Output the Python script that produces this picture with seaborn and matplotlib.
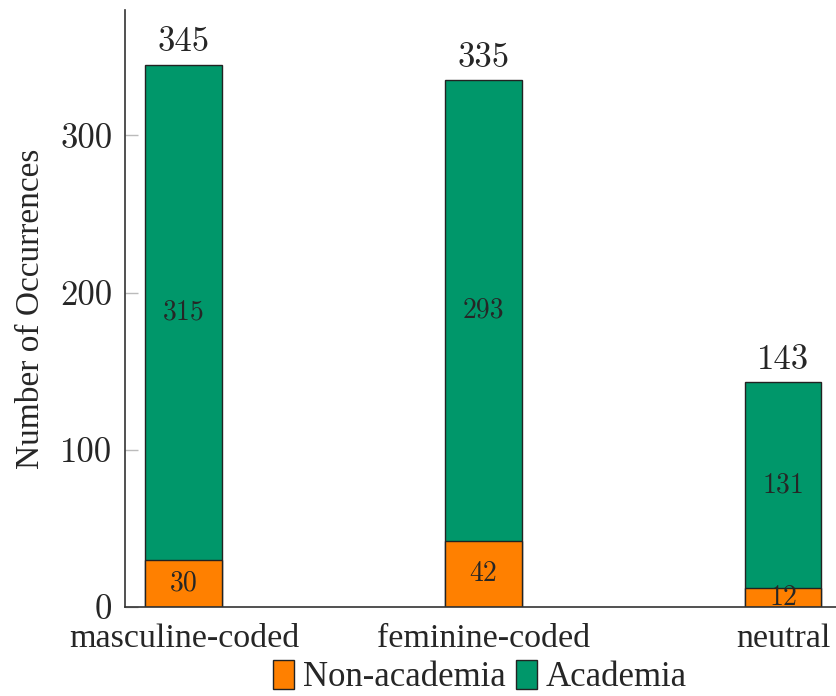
import numpy as np
import pandas as pd
import matplotlib
matplotlib.use('Agg')
import matplotlib.pyplot as plt
import matplotlib.patches as mpatches
import seaborn as sns

# Data
categories = ['masculine-coded', 'feminine-coded', 'neutral']
non_academia = [30, 42, 12]
academia = [315, 293, 131]
totals = [n + a for n, a in zip(non_academia, academia)]

orange = '#FF8000'
green = '#00976A'

sns.set_theme(style='white')
plt.rcParams['font.family'] = ['Liberation Serif', 'DejaVu Serif']
plt.rcParams['axes.formatter.use_mathtext'] = True

df = pd.DataFrame({'category': categories, 'non_academia': non_academia,
                   'academia': academia, 'total': totals})

fig = plt.figure(figsize=(8.36, 6.96), dpi=100)
ax = fig.add_axes([0.1495, 0.128, 0.8505, 0.858])

bw = 0.257
# full stack in green, then non-academia on top of it from zero
sns.barplot(data=df, x='category', y='total', color=green, saturation=1,
            width=bw, edgecolor='#222222', linewidth=1.0, ax=ax)
sns.barplot(data=df, x='category', y='non_academia', color=orange, saturation=1,
            width=bw, edgecolor='#222222', linewidth=1.0, ax=ax)

num_font = 'cmr10'
for i in range(len(categories)):
    ax.text(i, non_academia[i] / 2, str(non_academia[i]), ha='center', va='center',
            fontsize=20, family=num_font)
    ax.text(i, non_academia[i] + academia[i] / 2, str(academia[i]), ha='center',
            va='center', fontsize=20, family=num_font)
    ax.text(i, totals[i] + 4, str(totals[i]), ha='center', va='bottom',
            fontsize=25, family=num_font)

ax.set_xlim(-0.197, 2.177)
ax.set_ylim(0, 380)
ax.set_yticks([0, 100, 200, 300])
ax.set_yticklabels(['0', '100', '200', '300'], family=num_font, fontsize=25)
ax.set_xticks(range(len(categories)))
ax.set_xticklabels(categories, fontsize=24.5)
ax.tick_params(axis='y', direction='in', length=9, width=1, color='#bbbbbb',
               left=True, pad=9)
ax.tick_params(axis='x', length=0, pad=12)
ax.set_xlabel('')
ax.set_ylabel('Number of Occurrences', fontsize=24, labelpad=10)

for s in ['top', 'right']:
    ax.spines[s].set_visible(False)
for s in ['left', 'bottom']:
    ax.spines[s].set_color('#333333')
    ax.spines[s].set_linewidth(1.2)

handles = [mpatches.Patch(facecolor=orange, edgecolor='#222222', label='Non-academia'),
           mpatches.Patch(facecolor=green, edgecolor='#222222', label='Academia')]
fig.legend(handles=handles, loc='center', bbox_to_anchor=(0.574, 0.027), ncol=2,
           frameon=False, fontsize=25, handlelength=0.6, handleheight=0.9,
           handletextpad=0.25, columnspacing=0.3, borderpad=0)

fig.savefig('out.png', dpi=100)
